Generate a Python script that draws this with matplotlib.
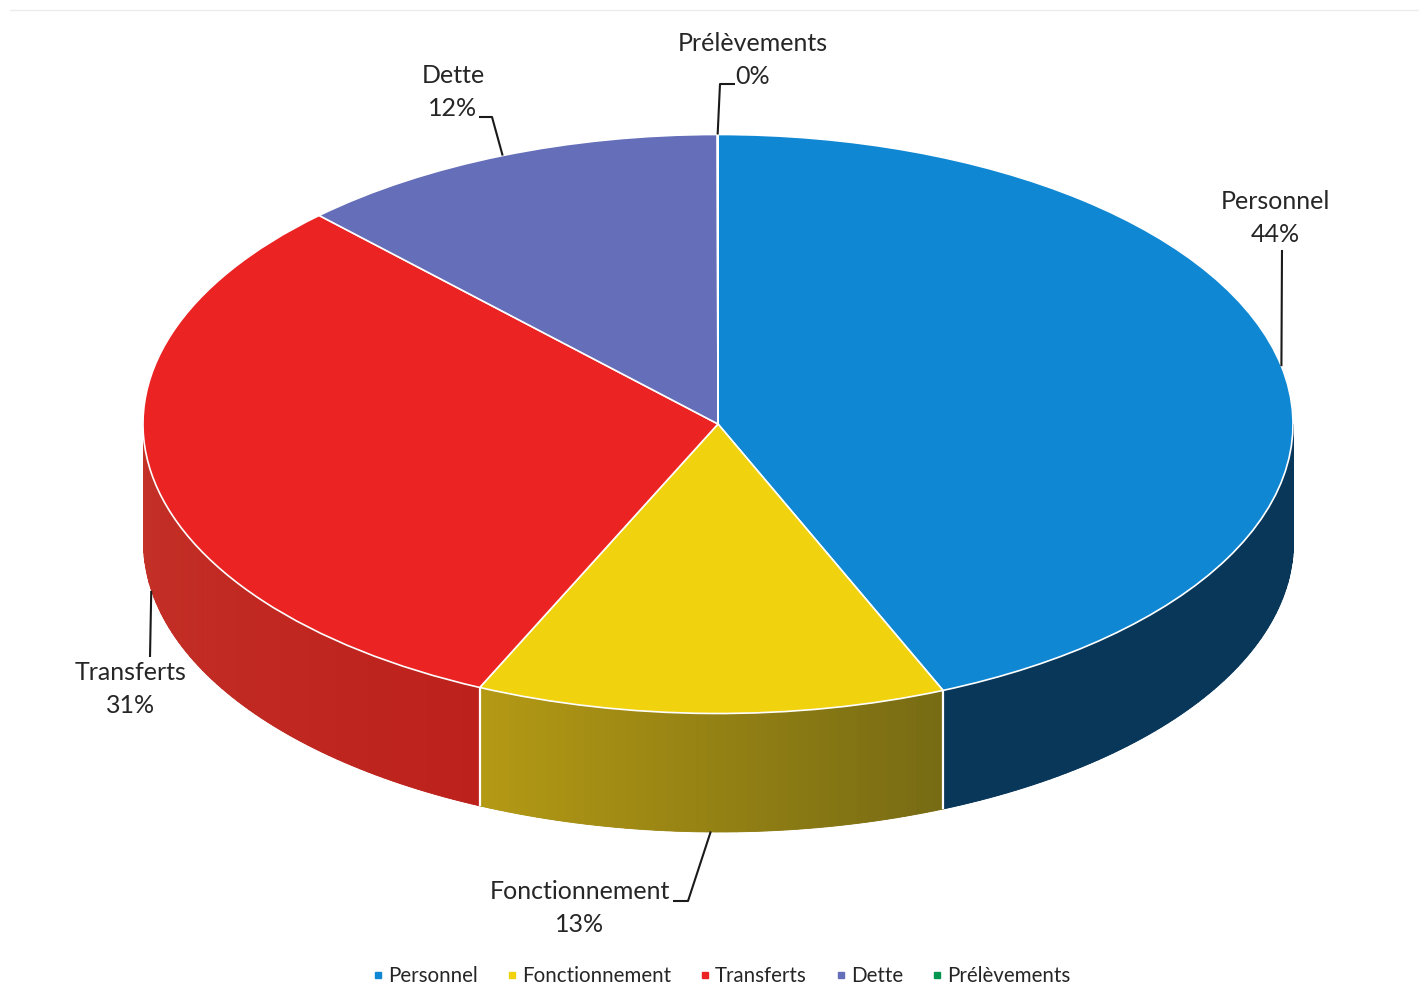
import matplotlib
matplotlib.use('Agg')
import matplotlib.pyplot as plt
import numpy as np
from matplotlib.lines import Line2D

plt.rcParams['font.family'] = ['Lato', 'DejaVu Sans']

labels = ['Personnel', 'Fonctionnement', 'Transferts', 'Dette', 'Prélèvements']
values = [43.6, 13.2, 31.0, 12.18, 0.02]
colors = ['#0f87d2', '#f0d20f', '#eb2323', '#646eb9', '#009650']
# wall colour, left end and right end of each slice
wall_left = ['#08375a', '#b49a14', '#c43228', '#4a5290', '#006a38']
wall_right = ['#08375a', '#766a14', '#bd211c', '#4a5290', '#006a38']

# pie geometry in pixels of the picture
W, H = 1419, 1006
CX, CY = 718, 424
RX, RY = 575, 289.5
DEPTH = 118 / RY


def px(x, y):
    return (x - CX) / RX, (CY - y) / RY


def hex2rgb(c):
    return np.array(matplotlib.colors.to_rgb(c))


fig = plt.figure(figsize=(W / 100, H / 100), dpi=100, facecolor='white')
ax = fig.add_axes([0, 0, 1, 1])

edges = np.cumsum([0] + values) / np.sum(values) * 360

# side wall, only the lower half of the ellipse shows
for i in range(len(values)):
    a0 = max(edges[i], 90)
    a1 = min(edges[i + 1], 270)
    if a1 <= a0:
        continue
    # solid base first so no white comes through between the strips
    t = np.radians(np.linspace(a0, a1, 200))
    base = (hex2rgb(wall_left[i]) + hex2rgb(wall_right[i])) / 2
    ax.fill_between(np.sin(t), np.cos(t), np.cos(t) - DEPTH, color=base, lw=0, zorder=1)
    # theta runs clockwise, so x goes right to left
    steps = max(int((a1 - a0) / 1.0), 1)
    th = np.linspace(a0, a1, steps + 1)
    for j in range(steps):
        t = np.radians(np.linspace(th[j], th[j + 1], 4))
        f = 1 - (j + 0.5) / steps
        col = hex2rgb(wall_left[i]) * (1 - f) + hex2rgb(wall_right[i]) * f
        ax.fill_between(np.sin(t), np.cos(t), np.cos(t) - DEPTH, color=col, lw=0.6,
                        edgecolor=col, zorder=1)

# white seams on the wall
for a in edges[1:-1]:
    if 90 < a < 270:
        t = np.radians(a)
        ax.plot([np.sin(t)] * 2, [np.cos(t), np.cos(t) - DEPTH], color='white', lw=1.6, zorder=2)

wedges, _ = ax.pie(values, colors=colors, startangle=90, counterclock=False, radius=1,
                   wedgeprops={'edgecolor': 'white', 'linewidth': 1.2})
for w in wedges:
    w.set_zorder(3)
ax.set_aspect('auto')
ax.set_xlim(px(0, 0)[0], px(W, 0)[0])
ax.set_ylim(px(0, H)[1], px(0, 0)[1])
ax.axis('off')

# faint edge of the scanned page
ax.plot([px(10, 0)[0], px(W, 0)[0]], [px(0, 10)[1]] * 2, color='#ececec', lw=1, zorder=0)

# data labels, centre of the two text lines in pixels
label_pos = [(1275, 218), (580, 908), (131, 689), (453, 92), (753, 60)]
# leader lines start on the slice rim and go through these pixels
leaders = [[(1282, 250)], [(688, 901), (673, 901)], [(150, 657)],
           [(492, 117), (479, 117)], [(720, 84), (735, 84)]]

for i, name in enumerate(labels):
    ax.text(*px(*label_pos[i]), f'{name}\n{round(values[i])}%', ha='center', va='center',
            fontsize=18, color='#262626', linespacing=1.56, zorder=5)
    mid = np.radians((edges[i] + edges[i + 1]) / 2)
    xs = [np.sin(mid)]
    ys = [np.cos(mid)]
    if 90 < np.degrees(mid) < 270:
        ys[0] -= DEPTH
    for p in leaders[i]:
        q = px(*p)
        xs.append(q[0])
        ys.append(q[1])
    ax.plot(xs, ys, color='#1a1a1a', lw=1.5, zorder=5, solid_capstyle='butt')

handles = [Line2D([], [], ls='', marker='s', ms=5, color=c) for c in colors]
fig.legend(handles, labels, loc='center', bbox_to_anchor=(721 / W, 1 - 976 / H), ncol=5,
           frameon=False, fontsize=14.8, handlelength=0.6, handletextpad=0.2,
           columnspacing=1.35, labelcolor='#262626')

fig.savefig('out.png', dpi=100)
